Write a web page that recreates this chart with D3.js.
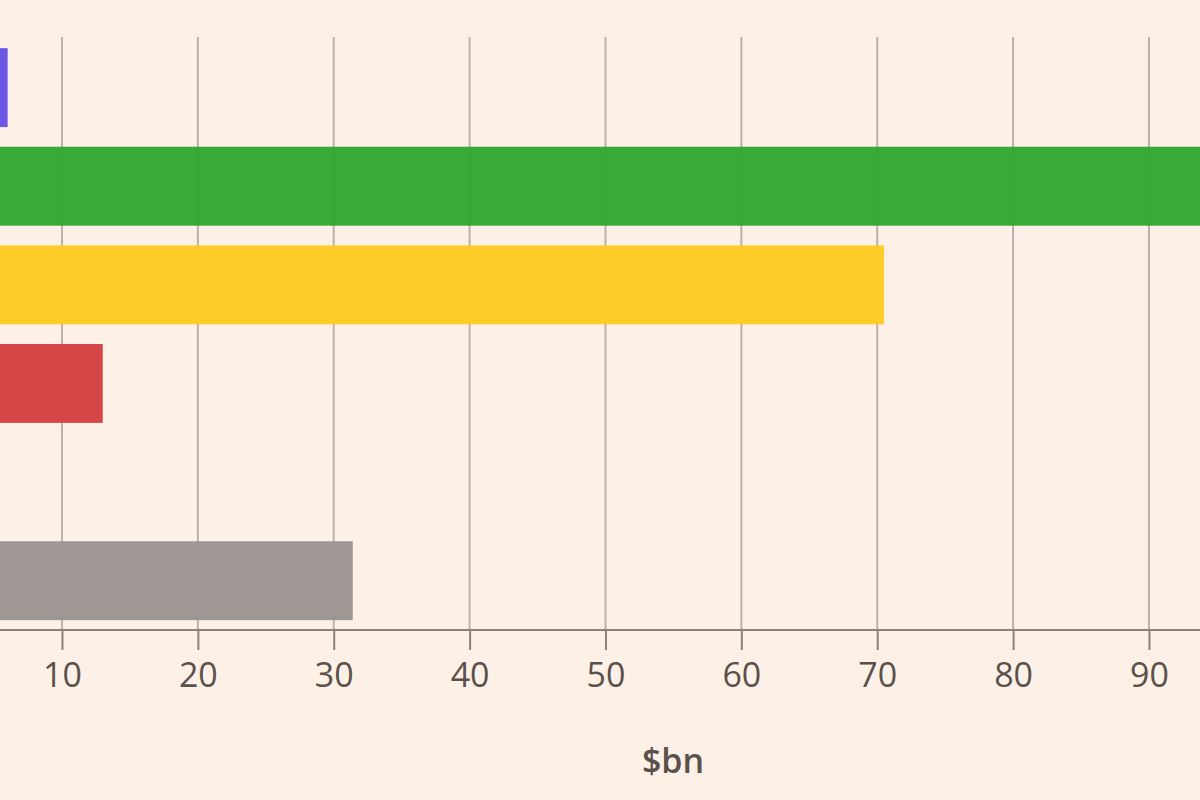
<!DOCTYPE html>
<html>
<head>
<meta charset="utf-8">
<script src="https://cdn.jsdelivr.net/npm/d3@7"></script>
<style>
  html, body { margin: 0; padding: 0; background: #fdf0e7; }
  svg { display: block; }
  text { font-family: "Open Sans", Lato, sans-serif; }
</style>
</head>
<body>
<svg id="chart" width="1200" height="800"></svg>
<script>
// Row categories (top to bottom) and their values in $bn
const categories = ["Row A", "Row B", "Row C", "Row D", "Row E", "Row F"];
const values = [6.0, 98, 70.5, 13.0, null, 31.4];
const barColors = ["#6650e6", "#2fa82f", "#ffca22", "#d24040", "#999999", "#9a9391"];
const tickValues = [10, 20, 30, 40, 50, 60, 70, 80, 90];
const axisTitle = "$bn";

const svg = d3.select("#chart");
const W = 1200, H = 800;

svg.append("rect").attr("width", W).attr("height", H).attr("fill", "#fdf0e7");

const x = d3.scaleLinear().domain([0, 100]).range([-73.9, -73.9 + 1358.75]);
const y = d3.scaleBand().domain(categories).range([38.3, 630]).paddingInner(0.2).paddingOuter(0.1);

const axisY = 630;

// vertical gridlines
svg.append("g")
  .selectAll("line")
  .data(tickValues)
  .join("line")
  .attr("x1", d => x(d)).attr("x2", d => x(d))
  .attr("y1", 37).attr("y2", axisY)
  .attr("stroke", "#bcb1aa")
  .attr("stroke-width", 2);

// bars
svg.append("g")
  .selectAll("rect")
  .data(categories.map((c, i) => ({ c, v: values[i], color: barColors[i] })).filter(d => d.v != null))
  .join("rect")
  .attr("x", x(0))
  .attr("y", d => y(d.c))
  .attr("width", d => x(d.v) - x(0))
  .attr("height", y.bandwidth())
  .attr("fill", d => d.color)
  .attr("fill-opacity", 0.96);

// bottom axis
const axis = d3.axisBottom(x)
  .tickValues(tickValues)
  .tickSize(20)
  .tickFormat(d3.format("d"));

const gAxis = svg.append("g")
  .attr("transform", `translate(0,${axisY})`)
  .call(axis);

gAxis.select(".domain").remove();
gAxis.append("line")
  .attr("x1", 0).attr("x2", W)
  .attr("stroke", "#8c827b").attr("stroke-width", 2);
gAxis.selectAll(".tick line").attr("stroke", "#8c827b").attr("stroke-width", 2);
gAxis.selectAll(".tick text")
  .attr("y", 57)
  .attr("dy", 0)
  .attr("fill", "#5b514b")
  .attr("font-size", 34)
  .attr("font-family", "'Open Sans', Lato, sans-serif");

// axis title
svg.append("text")
  .attr("x", 673)
  .attr("y", 773)
  .attr("text-anchor", "middle")
  .attr("fill", "#5b514b")
  .attr("font-size", 34)
  .attr("font-weight", 600)
  .text(axisTitle);
</script>
</body>
</html>
